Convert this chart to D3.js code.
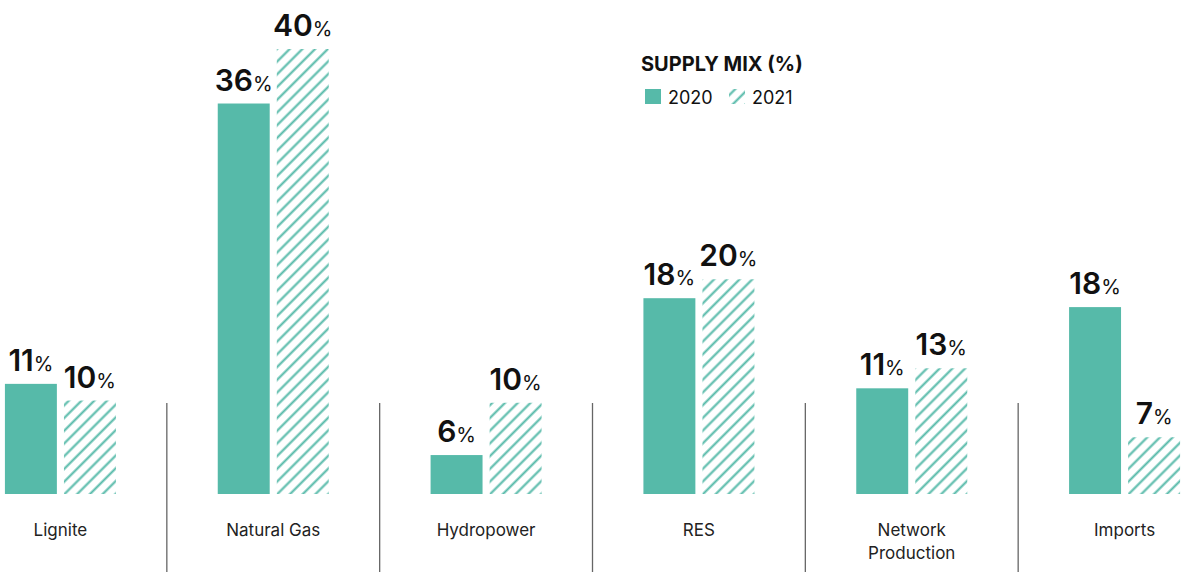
<!DOCTYPE html>
<html>
<head>
<meta charset="utf-8">
<script src="https://cdn.jsdelivr.net/npm/d3@7"></script>
<style>
  body { margin: 0; background: #fff; }
  svg { display: block; font-family: Inter, 'Noto Sans', sans-serif; }
</style>
</head>
<body>
<div id="chart"></div>
<script>
// categories and series
const categories = ['Lignite', 'Natural Gas', 'Hydropower', 'RES', 'Network Production', 'Imports']
const years = ['2020', '2021']
// bar lengths as drawn in the picture (% units)
const values2020 = [9.9, 35.1, 3.5, 17.6, 9.5, 16.8]
const values2021 = [8.4, 40, 8.2, 19.3, 11.3, 5.1]
// printed labels
const labels2020 = [11, 36, 6, 18, 11, 18]
const labels2021 = [10, 40, 10, 20, 13, 7]

const WIDTH = 1184
const HEIGHT = 572
const BASE = 494
const TEAL = '#56baa9'

const data = categories.map((c, i) => ({
  category: c,
  bars: [
    { year: '2020', value: values2020[i], label: labels2020[i] },
    { year: '2021', value: values2021[i], label: labels2021[i] }
  ]
}))

const svg = d3.select('#chart')
  .append('svg')
  .attr('width', WIDTH)
  .attr('height', HEIGHT)

// hatch pattern
const defs = svg.append('defs')
defs.append('pattern')
  .attr('id', 'hatch')
  .attr('patternUnits', 'userSpaceOnUse')
  .attr('width', 9)
  .attr('height', 9)
  .attr('patternTransform', 'rotate(45)')
  .append('line')
  .attr('x1', 4.5).attr('y1', 0)
  .attr('x2', 4.5).attr('y2', 9)
  .attr('stroke', TEAL)
  .attr('stroke-width', 2.1)

const x = d3.scaleBand()
  .domain(categories)
  .range([-46, 1231])
  .padding(0)

const xSub = d3.scaleBand()
  .domain(years)
  .range([0, 111])
  .paddingInner(0.12)
  .paddingOuter(0)

const y = d3.scaleLinear()
  .domain([0, 40])
  .range([BASE, 49])

// separators
svg.selectAll('.sep')
  .data(categories.slice(1))
  .enter()
  .append('line')
  .attr('class', 'sep')
  .attr('x1', d => x(d))
  .attr('x2', d => x(d))
  .attr('y1', 403)
  .attr('y2', HEIGHT)
  .attr('stroke', '#666')
  .attr('stroke-width', 1.3)

const groups = svg.selectAll('.group')
  .data(data)
  .enter()
  .append('g')
  .attr('class', 'group')
  .attr('transform', d => `translate(${x(d.category) + x.bandwidth() / 2 - 55.5}, 0)`)

groups.selectAll('rect')
  .data(d => d.bars)
  .enter()
  .append('rect')
  .attr('x', d => xSub(d.year))
  .attr('y', d => y(d.value))
  .attr('width', xSub.bandwidth())
  .attr('height', d => BASE - y(d.value))
  .attr('fill', d => d.year === '2020' ? TEAL : 'url(#hatch)')

const lbl = groups.selectAll('.val')
  .data(d => d.bars)
  .enter()
  .append('text')
  .attr('class', 'val')
  .attr('x', d => xSub(d.year) + xSub.bandwidth() / 2)
  .attr('y', d => y(d.value) - 13)
  .attr('text-anchor', 'middle')
  .attr('fill', '#111')
lbl.append('tspan')
  .attr('font-size', '30px')
  .attr('font-weight', 600)
  .text(d => d.label)
lbl.append('tspan')
  .attr('font-size', '20px')
  .attr('font-weight', 400)
  .text('%')

// category labels
groups.append('text')
  .attr('x', 55.5)
  .attr('y', 536)
  .attr('text-anchor', 'middle')
  .attr('font-size', '17px')
  .attr('fill', '#222')
  .each(function (d) {
    const words = d.category === 'Network Production' ? ['Network', 'Production'] : [d.category]
    words.forEach((w, i) => {
      d3.select(this).append('tspan')
        .attr('x', 55.5)
        .attr('dy', i === 0 ? 0 : 23)
        .text(w)
    })
  })

// legend
const legend = svg.append('g').attr('transform', 'translate(641, 0)')
legend.append('text')
  .attr('x', 0)
  .attr('y', 71)
  .attr('font-size', '20px')
  .attr('font-weight', 700)
  .attr('fill', '#111')
  .text('SUPPLY MIX (%)')

const items = legend.selectAll('.item')
  .data(years)
  .enter()
  .append('g')
  .attr('class', 'item')
  .attr('transform', (d, i) => `translate(${4 + i * 84}, 89)`)
items.append('rect')
  .attr('width', 16)
  .attr('height', 15)
  .attr('fill', d => d === '2020' ? TEAL : 'url(#hatch)')
items.append('text')
  .attr('x', 23)
  .attr('y', 15)
  .attr('font-size', '18px')
  .attr('fill', '#111')
  .text(d => d)
</script>
</body>
</html>
